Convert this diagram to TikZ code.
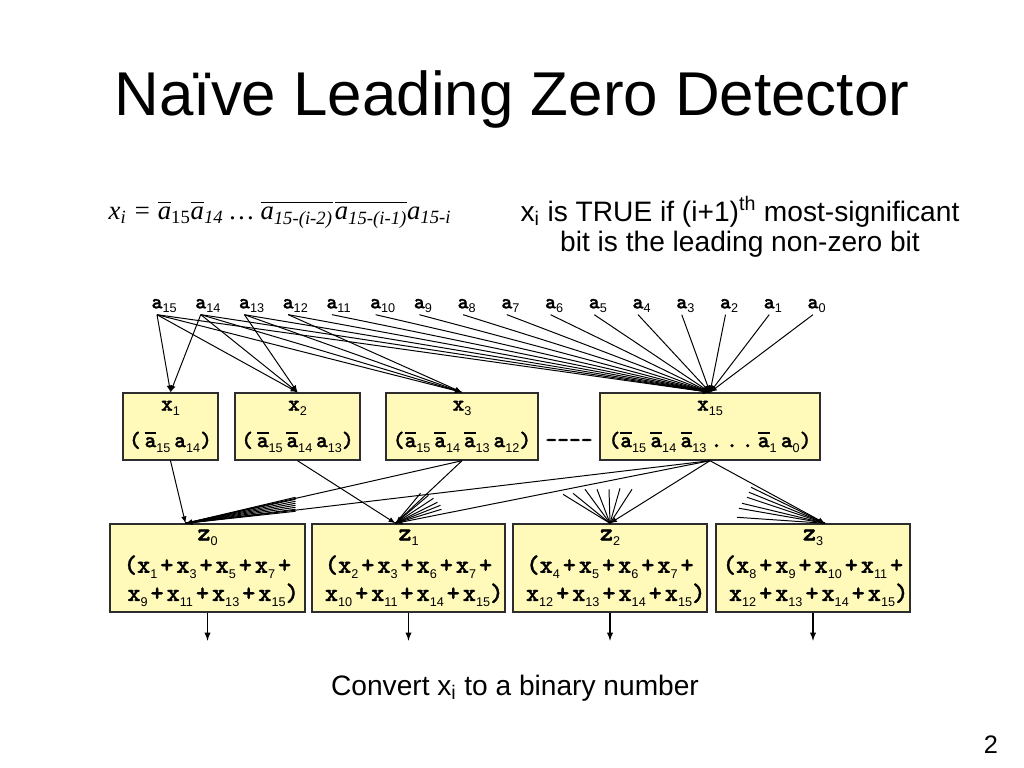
\documentclass[tikz,border=0pt]{standalone}
\usepackage{fontspec}
\setmainfont{Liberation Sans}
\newfontfamily\timesfont{Liberation Serif}
\newfontfamily\lzmono{lmmonolt10-bold.otf}[FakeBold=1.2]
\usetikzlibrary{calc}

\definecolor{boxfill}{RGB}{255,250,185}
\definecolor{boxline}{RGB}{45,45,45}

% bold variable with subscript, and the same with a bar over it
\newcommand{\lzsub}[1]{\raisebox{-0.5ex}{\rmfamily\fontsize{9}{9}\selectfont #1}}
\newcommand{\bv}[2]{#1\lzsub{#2}}
\newcommand{\nv}[2]{\vbox{\hrule height 1.4pt\kern 2.5pt\hbox{#1}}\lzsub{#2}}
\newcommand{\ovl}[1]{\vbox{\hrule height 0.6pt\kern 3.5pt\hbox{#1}}}
\newcommand{\pl}{\hspace{2pt}+\hspace{2pt}}

\tikzset{
  xbox/.style={draw=boxline, fill=boxfill, line width=1pt, align=center,
    minimum height=1.675cm, inner sep=1pt,
    font=\fontsize{16}{17}\selectfont\lzmono},
  zbox/.style={draw=boxline, fill=boxfill, line width=1pt, align=center,
    minimum height=2.2cm, inner sep=1pt,
    font=\fontsize{18}{18}\selectfont\lzmono},
  alab/.style={inner sep=1pt, font=\fontsize{15}{16}\selectfont\lzmono},
  wire/.style={-latex, line width=0.7pt},
  stub/.style={line width=0.7pt}
}

\begin{document}
\begin{tikzpicture}[x=0.025cm, y=-0.025cm]
\useasboundingbox (0,0) rectangle (1024,768);

\node (title) at (512,100) {\fontsize{44}{52}\selectfont Naïve Leading Zero Detector};
\node (formula) at (280,215) {\fontsize{19}{22}\selectfont\timesfont\itshape
  x\textsubscript{i} = \ovl{a}\textsubscript{\upshape 15}\ovl{a}\textsubscript{14} \dots\
  \ovl{a\textsubscript{15-(i-2)}}\kern1.5pt\ovl{a\textsubscript{15-(i-1)}}a\textsubscript{15-i}};
\node[align=center, font=\fontsize{20}{22}\selectfont] (note) at (740,227)
  {x\textsubscript{i} is TRUE if (i+1)\textsuperscript{th} most-significant\\
   bit is the leading non-zero bit};

% inputs
\foreach \i in {0,...,15}
  \node[alab] (a\i) at ({157+(15-\i)*43.73},306) {a\rlap{\lzsub{\i}}};

% first stage
\node[xbox, minimum width=2.375cm] (x1) at (170.5,426.5)
  {\bv{x}{1}\\[9pt](\,\nv{a}{15}\,\bv{a}{14})};
\node[xbox, minimum width=3.125cm] (x2) at (297.5,426.5)
  {\bv{x}{2}\\[9pt](\,\nv{a}{15}\,\nv{a}{14}\,\bv{a}{13})};
\node[xbox, minimum width=3.8cm] (x3) at (462,426.5)
  {\bv{x}{3}\\[9pt](\nv{a}{15}\,\nv{a}{14}\,\nv{a}{13}\,\bv{a}{12})};
\node[xbox, minimum width=5.5cm] (x15) at (710,426.5)
  {\bv{x}{15}\\[9pt](\nv{a}{15}\hspace{3pt}\nv{a}{14}\hspace{3pt}\nv{a}{13}\hspace{3pt}.\,.\,.\hspace{3pt}\nv{a}{1}\hspace{3pt}\bv{a}{0})};
\node[font=\fontsize{16}{17}\selectfont\lzmono] (gap) at (569,443) {----};

\foreach \j in {x1,x2,x3,x15} \draw[wire] (a15.south) -- (\j.north);
\foreach \j in {x1,x2,x3,x15} \draw[wire] (a14.south) -- (\j.north);
\foreach \j in {x2,x3,x15} \draw[wire] (a13.south) -- (\j.north);
\foreach \j in {x3,x15} \draw[wire] (a12.south) -- (\j.north);
\foreach \i in {0,...,11} \draw[wire] (a\i.south) -- (x15.north);

% second stage
\node[zbox, minimum width=4.875cm] (z0) at (207.5,568)
  {\bv{z}{0}\\[5pt](\bv{x}{1}\pl\bv{x}{3}\pl\bv{x}{5}\pl\bv{x}{7}\pl\\[2pt]
   \hspace{8pt}\bv{x}{9}\pl\bv{x}{11}\pl\bv{x}{13}\pl\bv{x}{15})};
\node[zbox, minimum width=4.825cm] (z1) at (408.5,568)
  {\bv{z}{1}\\[5pt](\bv{x}{2}\pl\bv{x}{3}\pl\bv{x}{6}\pl\bv{x}{7}\pl\\[2pt]
   \hspace{8pt}\bv{x}{10}\pl\bv{x}{11}\pl\bv{x}{14}\pl\bv{x}{15})};
\node[zbox, minimum width=4.85cm] (z2) at (610,568)
  {\bv{z}{2}\\[5pt](\bv{x}{4}\pl\bv{x}{5}\pl\bv{x}{6}\pl\bv{x}{7}\pl\\[2pt]
   \hspace{8pt}\bv{x}{12}\pl\bv{x}{13}\pl\bv{x}{14}\pl\bv{x}{15})};
\node[zbox, minimum width=4.85cm] (z3) at (813,568)
  {\bv{z}{3}\\[5pt](\bv{x}{8}\pl\bv{x}{9}\pl\bv{x}{10}\pl\bv{x}{11}\pl\\[2pt]
   \hspace{8pt}\bv{x}{12}\pl\bv{x}{13}\pl\bv{x}{14}\pl\bv{x}{15})};

\coordinate (t0) at ($(z0.north)+(-22,0)$);
\coordinate (t1) at ($(z1.north)+(-13,0)$);
\coordinate (t2) at (z2.north);
\coordinate (t3) at ($(z3.north)+(12,0)$);

\draw[wire] (x1.south) -- (t0);
\draw[wire] (x2.south) -- (t1);
\foreach \t in {t0,t1} \draw[wire] (x3.south) -- (\t);
\foreach \t in {t0,t1,t2,t3} \draw[wire] (x15.south) -- (\t);

% fans from the x boxes not drawn
\foreach \dy [count=\n] in {-26,-24,-22,-20,-18,-16,-14,-12}
  {\coordinate (s0\n) at ($(t0)+(110,\dy)$); \draw[stub] (s0\n) -- (t0);}
\foreach \dx/\dy [count=\n] in {25/-30,33/-28,38/-25,42/-21,45/-18,46/-14}
  {\coordinate (s1\n) at ($(t1)+(\dx,\dy)$); \draw[stub] (s1\n) -- (t1);}
\foreach \dx/\dy [count=\n] in {-47/-29,-37/-30,-25/-34,-13/-34,-1/-34,10/-35,22/-34}
  {\coordinate (s2\n) at ($(t2)+(\dx,\dy)$); \draw[stub] (s2\n) -- (t2);}
\foreach \dx/\dy [count=\n] in {-74/-36,-76/-31,-78/-26,-83/-20,-86/-15,-88/-6}
  {\coordinate (s3\n) at ($(t3)+(\dx,\dy)$); \draw[stub] (s3\n) -- (t3);}

\foreach \k in {0,...,3}
  {\coordinate (o\k) at ($(z\k.south)+(0,28)$); \draw[wire, line width=1pt] (z\k.south) -- (o\k);}

\node[font=\fontsize{20}{24}\selectfont] (convert) at (515,688) {Convert x\textsubscript{i} to a binary number};
\node[font=\fontsize{18}{20}\selectfont] (page) at (991,745) {2};
\end{tikzpicture}
\end{document}
